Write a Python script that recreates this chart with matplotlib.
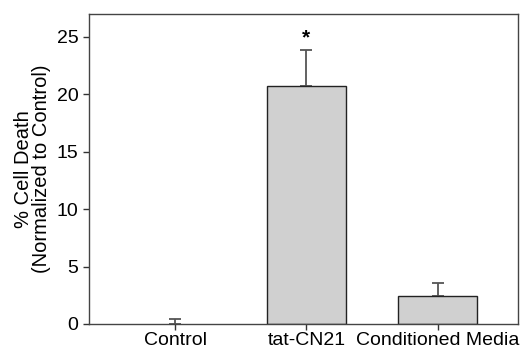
import matplotlib
matplotlib.use('Agg')
import matplotlib.pyplot as plt

plt.rcParams['font.family'] = ['Liberation Sans', 'DejaVu Sans']

groups = ['Control', 'tat-CN21', 'Conditioned Media']
cell_death = [0.0, 20.75, 2.45]
sem = [0.45, 3.1, 1.1]
marks = ['', '*', '']

fig = plt.figure(figsize=(5.25, 3.53), dpi=100)
ax = fig.add_axes([89 / 525, 29 / 353, 429 / 525, 310 / 353])

x = range(len(groups))
bars = ax.bar(x, cell_death, width=0.6, color='#d0d0d0', edgecolor='#222222', linewidth=1.0, zorder=2)
for b, v in zip(bars, cell_death):
    if v == 0:
        b.set_linewidth(0)
ax.errorbar(x, cell_death, yerr=[[0] * len(sem), sem], fmt='none',
            ecolor='#555555', elinewidth=1.3, capsize=4, capthick=1.3, zorder=1)
for xi, v, e, m in zip(x, cell_death, sem, marks):
    if m:
        ax.text(xi, v + e + 0.2, m, ha='center', va='bottom', fontsize=15, fontweight='bold')

ax.set_xlim(-0.655, 2.61)
ax.set_ylim(0, 27)
ax.set_yticks([0, 5, 10, 15, 20, 25])
ax.set_xticks(list(x))
ax.set_xticklabels(groups)
ax.tick_params(labelsize=14, direction='out', length=4, width=1, color='#333333')
ax.tick_params(axis='x', pad=2)
for s in ax.spines.values():
    s.set_color('#444444')
    s.set_linewidth(1.0)
ax.set_ylabel('% Cell Death\n(Normalized to Control)', fontsize=14.5, linespacing=0.95, labelpad=4)

fig.savefig('out.png', dpi=100)
